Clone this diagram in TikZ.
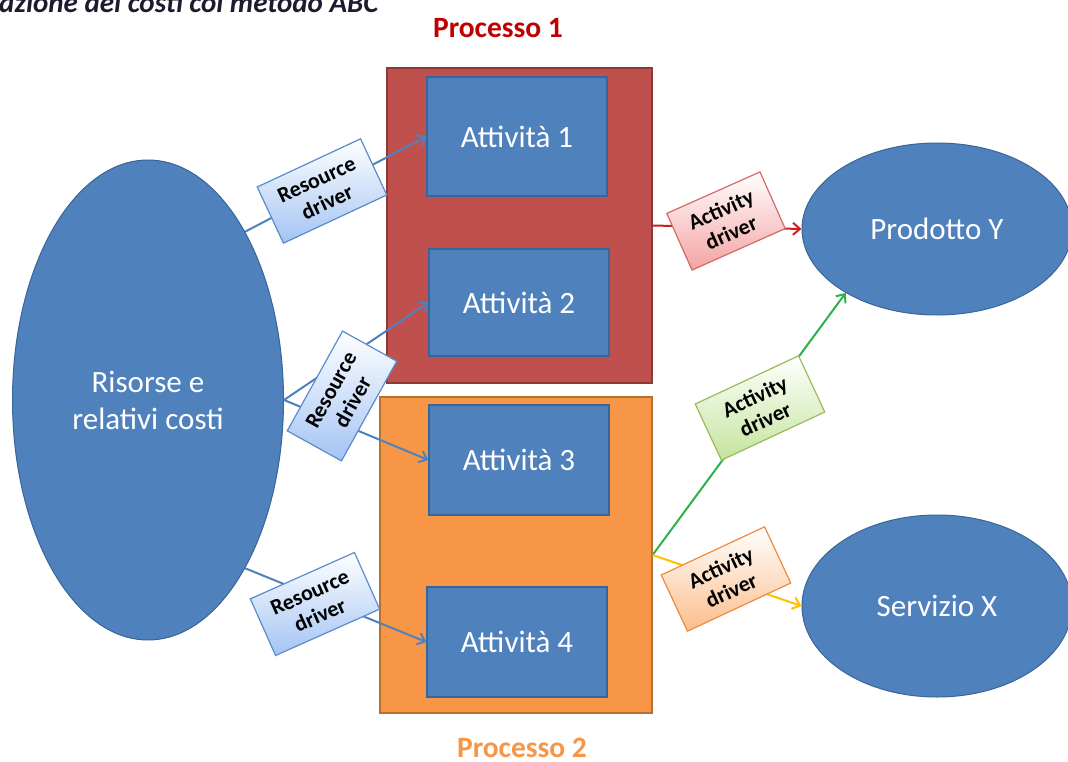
\documentclass[tikz,border=0pt]{standalone}
\usepackage{fontspec}
\setmainfont{Carlito}
\usetikzlibrary{shapes.geometric,arrows.meta}

\definecolor{nodeblue}{HTML}{4F81BD}
\definecolor{nodeblueedge}{HTML}{3A6598}
\definecolor{procred}{HTML}{C0504D}
\definecolor{procrededge}{HTML}{8C3A38}
\definecolor{procorange}{HTML}{F79646}
\definecolor{procorangeedge}{HTML}{B8702F}
\definecolor{titlered}{HTML}{C00000}
\definecolor{titleorange}{HTML}{F79646}
\definecolor{rdfill}{HTML}{A3C4F3}
\definecolor{rdedge}{HTML}{5A8BCB}
\definecolor{adredfill}{HTML}{F4A2A2}
\definecolor{adrededge}{HTML}{D46A67}
\definecolor{adgreenfill}{HTML}{C3E49C}
\definecolor{adgreenedge}{HTML}{9BBB59}
\definecolor{adorangefill}{HTML}{FBBE8C}
\definecolor{adorangeedge}{HTML}{F08A3C}
\definecolor{linkred}{HTML}{C8201E}
\definecolor{linkgreen}{HTML}{2BB34A}
\definecolor{linkgold}{HTML}{FFC000}
\definecolor{headink}{HTML}{1C1C30}

\begin{document}
\begin{tikzpicture}[x=1pt,y=-1pt,
  bigtext/.style={text=white,font=\fontsize{31}{37}\selectfont,align=center},
  oval/.style={ellipse,draw=nodeblueedge,fill=nodeblue,line width=1pt,inner sep=0pt,bigtext},
  process/.style={rectangle,line width=1.2pt,inner sep=0pt},
  activity/.style={rectangle,draw=nodeblueedge,fill=nodeblue,line width=1.2pt,
    minimum width=180pt,inner sep=0pt,bigtext},
  driver/.style={rectangle,line width=1.2pt,minimum width=114pt,minimum height=62pt,
    inner sep=0pt,align=center,font=\fontsize{22}{25}\selectfont\bfseries},
  resdriver/.style={driver,draw=rdedge,top color=white,bottom color=rdfill},
  actdriver/.style={driver,draw=#1edge,top color=white,bottom color=#1fill},
  link/.style={line width=2pt,-{Straight Barb[length=7pt,width=12pt]}},
  heading/.style={inner sep=0pt,font=\fontsize{29.5}{31}\selectfont\bfseries}
]
\clip (0,0) rectangle (1068,762);
\fill[white] (0,0) rectangle (1068,762);

% heading, cut by the top edge
\node[anchor=base west,inner sep=0pt,text=headink,
      font=\fontsize{29}{31}\selectfont\bfseries\itshape] (head) at (-1,13)
      {azione dei costi col metodo ABC};

% resources
\node[oval,minimum width=271pt,minimum height=480pt] (res) at (148,400)
      {Risorse e\\relativi costi};

% processes and their activities
\node[process,fill=procred,draw=procrededge,minimum width=265pt,minimum height=315pt]
      (p1) at (519.5,225.5) {};
\node[process,fill=procorange,draw=procorangeedge,minimum width=272pt,minimum height=316pt]
      (p2) at (516,555) {};
\node[heading,text=titlered] (p1name) at (498,28) {Processo 1};
\node[heading,text=titleorange] (p2name) at (522,748) {Processo 2};

\node[activity,minimum height=119pt] (act1) at (517,136.5) {Attività 1};
\node[activity,minimum height=107pt] (act2) at (519,302.5) {Attività 2};
\node[activity,minimum height=110pt] (act3) at (519,460) {Attività 3};
\node[activity,minimum height=110pt] (act4) at (517,642) {Attività 4};

% cost objects
\node[oval,minimum width=270pt,minimum height=172pt] (prod) at (937,229) {Prodotto Y};
\node[oval,minimum width=270pt,minimum height=182pt] (serv) at (937,606) {Servizio X};

% resource drivers: resources -> activities
\draw[link,draw=nodeblue] (res.60) -- (act1.west);
\draw[link,draw=nodeblue] (res.east) -- (act2.west);
\draw[link,draw=nodeblue] (res.east) -- (act3.west);
\draw[link,draw=nodeblue] (res.-60) -- (act4.west);

% activity drivers: processes -> cost objects
\draw[link,draw=linkred] (p1.east) -- (prod.west);
\draw[link,draw=linkgreen] (p2.east) -- (prod.215);
\draw[link,draw=linkgold] (p2.east) -- (serv.west);

% driver labels laid on the connectors
\node[resdriver,rotate=25] (rd1) at (322,191) {Resource\\driver};
\node[resdriver,rotate=61] (rd2) at (342,396) {Resource\\driver};
\node[resdriver,rotate=24] (rd3) at (315,604) {Resource\\driver};
\node[actdriver=adred,rotate=24,minimum width=102pt] (ad1) at (726,221) {Activity\\driver};
\node[actdriver=adgreen,rotate=25] (ad2) at (760,408) {Activity\\driver};
\node[actdriver=adorange,rotate=25] (ad3) at (726,579) {Activity\\driver};
\end{tikzpicture}
\end{document}
